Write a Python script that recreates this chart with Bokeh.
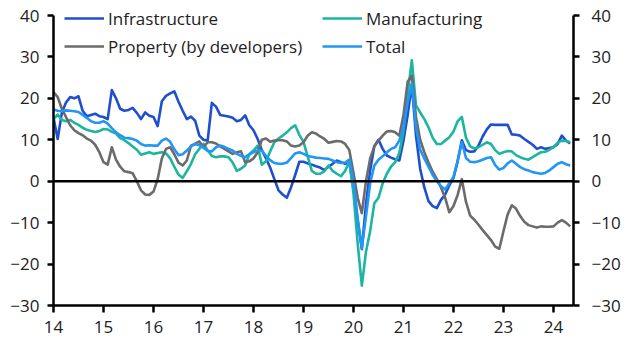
import numpy as np
from bokeh.plotting import figure
from bokeh.models import (Range1d, LinearAxis, FixedTicker, Legend, LegendItem, Span)
from bokeh.embed import file_html
from bokeh.resources import INLINE

# Monthly y/y %, points at month-ends from Dec-2013 (x=2014.0) to Apr-2024
infrastructure = [
    15.3, 10.2, 16.5, 19.0, 20.3, 20.0, 20.5, 17.0, 15.7, 16.0, 16.3, 15.7,   # 2014
    15.5, 15.0, 22.0, 20.0, 17.5, 17.0, 17.2, 17.7, 16.5, 15.0, 16.6, 15.8,   # 2015
    15.5, 13.3, 19.3, 20.6, 21.2, 21.7, 19.2, 17.0, 15.0, 15.6, 14.6, 11.0,   # 2016
    10.0, 9.8, 18.9, 18.0, 16.0, 15.8, 15.6, 15.3, 14.5, 14.8, 15.9, 13.5,    # 2017
    12.3, 10.2, 7.5, 5.5, 3.3, 0.5, -2.2, -3.2, -4.0, -1.5, 1.5, 4.7,         # 2018
    4.7, 4.3, 4.0, 3.6, 3.3, 2.7, 3.5, 4.2, 5.0, 4.6, 4.2, 4.5,               # 2019
    -1.5, -9.5, -16.4, -5.5, 2.6, 8.5, 10.0, 7.8, 6.2, 5.7, 5.3, 5.0,         # 2020
    9.8, 16.0, 23.3, 11.0, 3.0, -1.5, -4.8, -6.0, -6.5, -4.5, -3.2, -1.0,     # 2021
    0.8, 4.8, 9.9, 7.5, 7.1, 7.2, 8.6, 10.8, 12.5, 13.7, 13.6, 13.6,          # 2022
    13.6, 13.6, 11.3, 11.2, 11.0, 10.2, 9.5, 8.8, 7.8, 8.2, 7.8, 8.0,         # 2023
    8.2, 9.0, 11.0, 9.8, 9.1,                                                 # 2024
]
manufacturing = [
    15.0, 16.1, 14.8, 14.5, 14.8, 14.1, 13.6, 12.9, 12.4, 12.1, 11.9, 12.1,
    12.6, 12.5, 11.9, 11.5, 10.4, 9.9, 9.2, 8.4, 7.6, 6.4, 6.7, 7.0,
    6.6, 6.8, 7.0, 6.7, 5.5, 3.5, 1.6, 0.8, 2.4, 4.2, 6.5, 7.8,
    9.0, 7.5, 6.1, 5.8, 6.0, 6.0, 5.8, 4.5, 2.5, 3.0, 3.8, 6.5,
    7.4, 8.6, 4.0, 4.8, 7.2, 9.4, 10.3, 11.0, 11.8, 12.8, 13.5, 11.2,
    9.5, 6.0, 2.5, 1.8, 1.8, 2.4, 3.8, 2.5, 1.8, 1.2, 2.5, 4.8,
    -3.0, -15.0, -25.2, -17.0, -12.0, -5.3, -4.0, -0.5, 1.8, 3.5, 4.6, 6.8,
    12.2, 21.0, 29.2, 18.3, 16.6, 15.0, 13.0, 10.5, 9.0, 9.0, 9.8, 10.6,
    12.0, 14.5, 15.5, 10.5, 8.4, 7.9, 8.2, 8.8, 9.4, 9.0, 7.5, 6.6,
    7.0, 7.3, 7.2, 6.3, 5.8, 5.4, 5.2, 5.8, 6.4, 7.0, 7.1, 7.6,
    8.2, 9.3, 9.8, 9.7, 9.4,
]
property_dev = [
    21.5, 20.3, 17.5, 15.5, 13.5, 12.3, 11.6, 11.1, 10.3, 9.8, 8.8, 7.0,
    4.6, 4.0, 8.2, 5.2, 3.5, 2.4, 2.2, 1.9, 0.0, -2.2, -3.2, -3.3,
    -2.5, 0.5, 5.5, 7.8, 8.2, 6.5, 4.5, 3.8, 5.0, 8.6, 9.0, 9.6,
    8.2, 9.4, 9.4, 9.1, 8.4, 7.8, 7.2, 6.6, 7.0, 7.2, 4.6, 4.8,
    5.5, 7.0, 10.0, 10.3, 9.5, 9.8, 9.9, 9.9, 9.6, 8.6, 8.4, 8.6,
    9.4, 11.0, 11.8, 11.5, 10.8, 10.2, 9.3, 9.5, 9.7, 9.6, 9.0, 7.5,
    2.0, -4.0, -7.7, 0.0, 5.5, 8.4, 9.8, 11.0, 12.0, 12.1, 11.8, 11.0,
    16.0, 24.0, 25.5, 15.5, 10.0, 7.0, 4.5, 2.3, 0.5, -1.5, -4.0, -7.5,
    -6.0, -3.3, 0.5, -5.0, -8.3, -9.3, -10.5, -11.8, -13.0, -14.2, -15.8, -16.3,
    -12.0, -8.0, -5.8, -6.6, -8.4, -9.8, -10.6, -10.9, -11.2, -10.9, -11.0, -11.0,
    -10.9, -10.0, -9.4, -10.0, -10.9,
]
total = [
    17.3, 17.0, 16.9, 17.1, 17.0, 16.9, 16.7, 16.0, 15.3, 14.5, 14.1, 14.1,
    14.5, 13.9, 12.8, 11.8, 11.1, 10.5, 10.4, 10.2, 9.8, 9.0, 8.6, 8.7,
    8.6, 8.6, 9.8, 10.3, 9.5, 7.7, 6.3, 6.5, 7.4, 8.4, 9.0, 8.7,
    8.1, 7.3, 7.2, 8.2, 8.6, 8.3, 7.8, 7.4, 6.6, 6.1, 5.8, 6.5,
    7.0, 7.4, 7.4, 6.1, 5.1, 4.4, 4.2, 4.2, 4.5, 5.6, 6.7, 7.0,
    6.6, 6.1, 5.9, 5.7, 5.6, 5.5, 5.4, 5.0, 4.6, 4.4, 4.5, 5.2,
    0.0, -9.0, -16.2, -8.5, -0.5, 3.8, 5.2, 6.0, 7.0, 7.8, 8.2, 9.8,
    13.0, 19.0, 23.5, 13.0, 7.6, 5.5, 3.5, 1.5, 0.0, -1.2, -2.0, -0.5,
    1.0, 5.0, 9.4, 5.6, 4.7, 4.6, 4.8, 5.2, 5.6, 5.8, 3.9, 2.8,
    3.2, 4.3, 5.0, 4.2, 3.4, 2.9, 2.6, 2.2, 2.0, 1.8, 2.0, 2.6,
    3.4, 4.2, 4.6, 4.1, 3.8,
]
year_ticks = list(range(2014, 2025))
tick_labels = [str(y)[2:] for y in year_ticks]
y_ticks = [-30, -20, -10, 0, 10, 20, 30, 40]

n = len(total)
x = 2014 + np.arange(n) / 12.0

FONT = "Open Sans"
FS = "17px"

# frame extends 15px above the 40 line so the legend fits; axes are bounded to -30..40
Y_TOP = 40 + 15 * 70 / 290.0

p = figure(width=630, height=356, output_backend="svg", toolbar_location=None,
           x_range=Range1d(2014, 2024.4), y_range=Range1d(-30, Y_TOP),
           min_border_left=53, min_border_right=57, min_border_top=0, min_border_bottom=51)
p.outline_line_color = None
p.grid.visible = False
p.background_fill_color = "white"
p.border_fill_color = "white"

p.add_layout(Span(location=0, dimension="width", line_color="black", line_width=2.5))

series = [
    ("Infrastructure", infrastructure, "#1f4fcf"),
    ("Manufacturing", manufacturing, "#1cb5a0"),
    ("Property (by developers)", property_dev, "#6b6b6b"),
    ("Total", total, "#2196f5"),
]
renderers = {}
for name, vals, col in series:
    renderers[name] = p.line(x[:len(vals)], vals, line_color=col, line_width=2.6, line_join="round")

def style_axis(ax, standoff):
    ax.axis_line_color = "black"
    ax.axis_line_width = 2.5
    ax.major_tick_line_color = "black"
    ax.major_tick_line_width = 2.5
    ax.major_tick_out = 6
    ax.major_tick_in = 0
    ax.minor_tick_line_color = None
    ax.major_label_text_font = FONT
    ax.major_label_text_font_size = FS
    ax.major_label_text_color = "#222222"
    ax.major_label_standoff = standoff

xa = p.xaxis[0]
xa.ticker = FixedTicker(ticks=year_ticks)
xa.major_label_overrides = {y: l for y, l in zip(year_ticks, tick_labels)}
style_axis(xa, 8)
xa.major_tick_out = 7

ya = p.yaxis[0]
ya.ticker = FixedTicker(ticks=y_ticks)
ya.bounds = (-30, 40)
style_axis(ya, 8)

yr = LinearAxis(ticker=FixedTicker(ticks=y_ticks), bounds=(-30, 40))
style_axis(yr, 12)
p.add_layout(yr, "right")

# ncols fills column-first
items = [
    LegendItem(label="Infrastructure", renderers=[renderers["Infrastructure"]]),
    LegendItem(label="Property (by developers)", renderers=[renderers["Property (by developers)"]]),
    LegendItem(label="Manufacturing", renderers=[renderers["Manufacturing"]]),
    LegendItem(label="Total", renderers=[renderers["Total"]]),
]
leg = Legend(items=items, ncols=2, location=(11, 245), padding=0, margin=0, spacing=0,
             glyph_width=40, glyph_height=28, label_height=28, label_width=214,
             label_standoff=4, label_text_font=FONT, label_text_font_size=FS,
             label_text_color="#222222", border_line_color=None,
             background_fill_alpha=0)
p.add_layout(leg)

open("out.html", "w").write(file_html(p, INLINE))
